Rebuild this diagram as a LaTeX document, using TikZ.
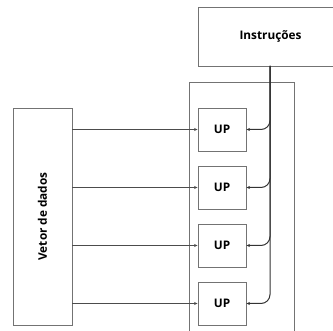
\documentclass[tikz,border=0pt]{standalone}
\usepackage{fontspec}
\setmainfont{Open Sans}
\usetikzlibrary{arrows.meta}
\begin{document}
\begin{tikzpicture}[x=1pt,y=-1pt,
  box/.style={draw=black!55,line width=0.9pt,inner sep=0pt,font=\bfseries\fontsize{11.8}{13}\selectfont},
  upbox/.style={box,minimum width=48pt,minimum height=43pt},
  feed/.style={draw=black!70,line width=0.7pt,-{Stealth[length=3.5pt,width=3pt]}},
  trunk/.style={draw=black!80,line width=1pt,rounded corners=9pt,-{Stealth[length=3.5pt,width=3pt]}}]
\useasboundingbox (0,0) rectangle (333,331);
\clip (0,0) rectangle (333,331);
% processing array frame, open at the bottom
\node[draw=black!55,line width=0.9pt,minimum width=105pt,minimum height=270pt,inner sep=0pt] (frame) at (241.5,217) {};
% instruction unit
\node[box,minimum width=145pt,minimum height=59pt] (instr) at (270.5,36.5) {Instruções};
% data vector
\node[box,minimum width=59pt,minimum height=217pt] (vetor) at (42.5,216.5) {\rotatebox{90}{Vetor de dados}};
% processing units
\node[upbox] (up1) at (222,129.5) {UP};
\node[upbox] (up2) at (222,187.5) {UP};
\node[upbox] (up3) at (222,245.5) {UP};
\node[upbox] (up4) at (222,303.5) {UP};
\coordinate (bus) at (270,66);
\foreach \u in {up1,up2,up3,up4}{
  \draw[feed] (vetor.east |- \u) -- (\u.west);
  \draw[trunk] (bus) |- (\u.east);
}
\end{tikzpicture}
\end{document}
